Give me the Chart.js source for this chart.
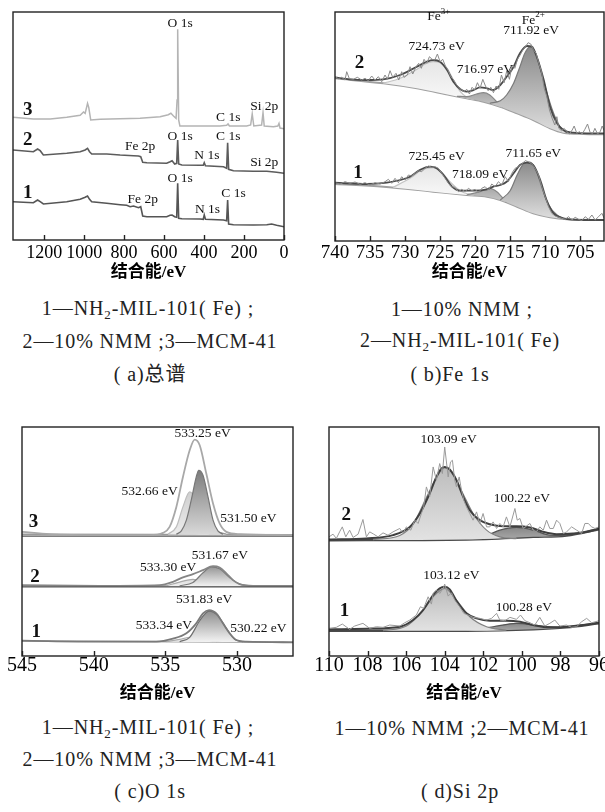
<!DOCTYPE html>
<html>
<head>
<meta charset="utf-8">
<script src="https://cdn.jsdelivr.net/npm/chart.js@4.4.1/dist/chart.umd.min.js"></script>
<style>
body{margin:0;background:#fff;width:605px;height:812px;position:relative;overflow:hidden;font-family:"Liberation Serif","Noto Sans CJK SC",serif;color:#222}
canvas{position:absolute}
.cap{position:absolute;font-size:20px;letter-spacing:0.9px;line-height:1;white-space:nowrap;transform:translate(-50%,-50%)}
.cap sub{font-size:13px;vertical-align:-4px}
</style>
</head>
<body>
<canvas id="ca" width="300" height="283" style="left:0;top:0"></canvas>
<canvas id="cb" width="305" height="283" style="left:300px;top:0"></canvas>
<canvas id="cc" width="300" height="289" style="left:0;top:415px"></canvas>
<canvas id="cd" width="305" height="289" style="left:300px;top:415px"></canvas>

<div class="cap" style="left:148px;top:309px">1—NH<sub>2</sub>-MIL-101( Fe) ;</div>
<div class="cap" style="left:150px;top:341px">2—10% NMM ;3—MCM-41</div>
<div class="cap" style="left:150px;top:374px">( a)总谱</div>
<div class="cap" style="left:462px;top:309px">1—10% NMM ;</div>
<div class="cap" style="left:460px;top:341px">2—NH<sub>2</sub>-MIL-101( Fe)</div>
<div class="cap" style="left:450px;top:374px">( b)Fe 1s</div>
<div class="cap" style="left:148px;top:728px">1—NH<sub>2</sub>-MIL-101( Fe) ;</div>
<div class="cap" style="left:150px;top:759px">2—10% NMM ;3—MCM-41</div>
<div class="cap" style="left:150px;top:791px">( c)O 1s</div>
<div class="cap" style="left:462px;top:728px">1—10% NMM ;2—MCM-41</div>
<div class="cap" style="left:460px;top:791px">( d)Si 2p</div>

<script>
// (a) survey spectra: [binding energy eV, intensity]
const surv3 = [[1356,122.7],[1254,121],[1170,121],[1087,122.7],[1020,124.7],[1003,128],[995,126.7],[983,136.7],[977,132.7],[967,120],[920,120.7],[820,121.3],[720,121.7],[620,123.3],[579,125.3],[566,126.7],[553,124],[540,121.7],[535,140],[532,210.7],[527,120],[521,114],[420,114],[320,114],[287,114.7],[280,116],[273,114],[187,114],[167,115],[159,126],[151,114],[112,115],[105,127.3],[99,114],[53,113.3],[31,114],[25,116.7],[20,112],[0,111.3]];
const surv2 = [[1356,90],[1254,88.3],[1233,91],[1220,89.3],[1204,85],[1087,86.7],[1020,88.3],[995,90],[983,91.7],[973,88.3],[962,86],[887,86],[820,85],[753,84.3],[728,84],[717,83.3],[707,77.7],[686,77.3],[587,76.7],[570,78.3],[560,79.3],[547,76],[537,76.7],[532,100],[527,76],[511,75],[420,74.7],[404,74.7],[399,77.3],[393,74.3],[303,73.3],[287,71.7],[282,97.3],[277,70.7],[253,69.3],[154,68.7],[86,68.7],[37,67.7],[0,66.7]];
const surv1 = [[1356,38.3],[1254,37.3],[1233,40],[1220,38.3],[1204,36],[1087,38.3],[1020,40.7],[995,42.7],[983,44],[973,40.7],[962,38.3],[887,36.7],[820,35.3],[787,34.7],[770,33.3],[753,34],[728,32.3],[717,33.3],[707,24],[686,23.3],[587,23.3],[570,24.7],[560,25],[547,23.3],[537,22.7],[532,56.7],[527,21.7],[511,21.3],[420,21],[404,20.7],[399,25],[393,20.7],[303,20],[287,19.3],[282,40],[277,16],[253,15.3],[154,15],[86,15.3],[62,16],[37,14.7],[0,13.3]];
const labA = [['O 1s',520,216.7],['3',1282,130,1],['C 1s',279,122.7],['Si 2p',99,133.3],['2',1282,100,1],['Fe 2p',720,93.3],['O 1s',520,103.3],['C 1s',279,103.3],['N 1s',386,85],['Si 2p',99,77.3],['1',1282,46.7,1],['Fe 2p',707,40.7],['O 1s',520,61.7],['C 1s',253,46.7],['N 1s',383,30.7]];

// (b) Fe spectra
const raw2B = [[740,164.3],[739.52,162.3],[739.05,163.7],[738.57,161],[738.33,169.3],[737.95,162.3],[737.38,161.7],[736.81,163.7],[736.19,161],[735.71,162.7],[735.24,160.3],[734.76,165],[734.29,161],[733.81,164.3],[733.33,159.3],[732.86,166],[732.52,161.7],[732.14,170.3],[731.76,163.7],[731.29,167.7],[730.9,161],[730.48,169.3],[730.14,163.7],[729.67,166],[729.29,174.3],[728.9,167],[728.43,174.3],[728.05,177.7],[727.67,172.7],[727.29,181.7],[726.9,177.7],[726.52,184.3],[726.14,181.7],[725.76,181],[725.38,187],[725,179.3],[724.62,181.7],[724.24,175],[723.86,171],[723.48,164.3],[723.1,161.7],[722.71,157],[722.33,153.7],[721.95,151],[721.57,149.3],[721.19,151.7],[720.81,147],[720.43,153.7],[720.05,151],[719.67,158.3],[719.29,152.7],[718.9,161.7],[718.52,155],[718.14,150.3],[717.76,153.7],[717.38,148.3],[717,155],[716.62,151.7],[716.24,166],[715.86,158.3],[715.48,170.3],[715.1,161.7],[714.71,176],[714.33,172.7],[713.95,181.7],[713.57,186],[713.19,191],[712.81,194.3],[712.43,198.3],[712.05,197],[711.67,191],[711.29,187.7],[710.9,177.7],[710.52,169.3],[710.14,152.7],[709.76,144.3],[709.38,131],[709,122.7],[708.62,116],[708.33,124.3],[708.05,112.7],[707.67,110.3],[707.29,112.7],[706.9,109.3],[706.52,107],[706.14,111],[705.86,115],[705.48,107.7],[705.1,109.3],[704.71,107],[704.33,111.7],[703.95,117],[703.57,108.3],[703.19,107.7],[702.9,112.7],[702.52,107],[702.14,109.3],[701.86,115],[701.57,110.3]];
const env2B = [[740,163.7],[737.9,161.7],[735.5,161],[733.1,161.7],[730.7,166],[728.3,174.3],[726.9,179.3],[726,181],[725,179.3],[724,171],[723.1,159.3],[722.1,151.7],[721.2,149.3],[720.2,151],[719.3,153.7],[718.3,152.7],[717.4,151],[716.4,156],[715.5,164.3],[714.5,174.3],[713.6,187.7],[712.6,195],[711.9,194.3],[711.2,184.3],[710.2,161],[709.3,134.3],[708.3,117.7],[707.4,111],[706,108.3],[704,107.7],[701.6,107.7]];
const bg2B = [[740,162.7],[733.1,157.7],[728.3,152.7],[723.6,146],[721.2,142.7],[718.8,139.3],[716.4,134.3],[714,127.7],[711.7,121],[709.3,112.7],[707.4,108.3],[704.5,107],[701.6,106.7]];
const fe3B2 = [[733.1,157.7],[730.7,162.7],[728.3,171.7],[726.9,177.7],[726,179.3],[725,178.3],[724,172.7],[723.1,161],[722.1,149.3],[721.2,143.7],[720.2,141.3]];
const satB2 = [[722.6,144.7],[721.2,144.3],[719.8,147],[718.8,148.3],[717.9,146],[716.9,139.3],[716,133.3]];
const fe2B2 = [[717.9,137.7],[716.4,140.3],[715.5,146],[714.5,157.7],[713.6,174.3],[712.9,187.7],[712.1,194.3],[711.4,188.3],[710.7,172.7],[709.8,149.3],[708.8,127.7],[707.9,114.3],[706.9,108]];
const raw1B = [[740,58.3],[739.29,57],[738.57,59.3],[737.86,57.7],[737.14,59],[736.43,56.7],[735.71,58.3],[735,56],[734.29,58.3],[733.57,57],[732.86,59.3],[732.38,61.7],[731.9,57.7],[731.43,62.7],[730.95,58.3],[730.48,64.3],[730,61],[729.52,66],[729.05,65],[728.57,67.7],[728.1,70.3],[727.62,69.3],[727.14,72.7],[726.67,75],[726.19,73.7],[725.71,74.3],[725.24,72.7],[724.76,67.7],[724.29,62.7],[723.81,57.7],[723.33,54.3],[722.86,53.7],[722.38,49.3],[721.9,51.7],[721.43,49.3],[720.95,52.7],[720.48,50.3],[720,51.7],[719.52,48.3],[719.05,52.7],[718.57,54.3],[718.1,51],[717.62,57],[717.14,54.3],[716.67,59.3],[716.19,56],[715.71,64.3],[715.24,59.3],[714.76,67.7],[714.29,72.7],[713.81,74.3],[713.33,77],[712.86,80.3],[712.38,79.3],[711.9,77],[711.43,72.7],[710.95,66],[710.48,54.3],[710,44.3],[709.52,34.3],[709.05,27.7],[708.57,25],[708.1,23.7],[707.62,22.7],[707.14,21.7],[706.67,24.3],[706.19,21],[705.71,23.7],[705.24,21.7],[704.76,20.3],[704.29,24.3],[703.81,21.7],[703.33,26],[702.86,21],[702.38,24.3],[701.9,27.7],[701.57,22.7]];
const env1B = [[740,58.3],[735.5,57],[732.6,58.3],[730.7,61],[729.3,64.3],[727.9,71],[726.4,74.3],[725.5,72.7],[724.5,66],[723.3,54.3],[722.1,50.3],[720.2,50.3],[718.3,51.7],[717.4,54.3],[716.4,56],[715.5,59.3],[714.5,67.7],[713.6,76],[712.6,78.3],[711.7,76],[710.7,61],[709.8,41],[708.8,27.7],[707.4,22.7],[704.5,21],[701.6,21]];
const bg1B = [[740,57],[733.1,54.3],[726,49.3],[721.2,46],[718.3,44.3],[716.4,41],[714,34.3],[711.7,27.7],[709.3,23.7],[706.9,21.7],[701.6,21]];
const fe3B1 = [[731.7,53.7],[729.3,62.7],[727.4,71.7],[726,73.3],[725,70.3],[723.6,59.3],[722.1,50],[720.2,45.5]];
const satB1 = [[721.2,46],[719.3,49.3],[717.9,52.7],[716.9,49.3],[715.5,38.5]];
const fe2B1 = [[716.4,41],[715,50.3],[714,66],[713.1,77],[712.2,79],[711.4,72.7],[710.5,54.3],[709.5,36],[708.3,26],[707.4,22.5]];
const labB = [['Fe^3+',725.2,224.3],['Fe^2+',711.7,221],['711.92 eV',712,211],['724.73 eV',725.5,194.3],['2',736.5,177.7,1],['716.97 eV',718.6,171.7],['725.45 eV',725.5,85],['711.65 eV',711.7,87.7],['1',736.7,67.7,1],['718.09 eV',719.3,67]];

// (c) O 1s
const env3C = [[545,124.3],[543.07,122],[539.58,121],[536.09,121],[535.16,123.3],[534.7,129.3],[534.23,149.3],[533.77,179.3],[533.3,206],[532.95,216.7],[532.6,211],[532.14,182.7],[531.67,152.7],[531.21,132.7],[530.74,124.3],[529.81,122],[526.09,121]];
const pkA3C = [[534.23,122],[533.88,125.3],[533.53,136],[533.19,156],[532.84,179.3],[532.67,186],[532.37,181],[532.02,159.3],[531.67,136],[531.33,125.3],[530.98,122]];
const pkB3C = [[534.81,122],[534.23,129.3],[533.77,149.3],[533.3,164.3],[532.95,157.7],[532.6,137.7],[532.26,125.3],[531.91,122]];
const pkC3C = [[532.84,122],[531.79,125.3],[530.74,122]];
const base3C = [[545,122],[526.09,121.3]];
const sep1C = [[545,120],[526.09,120]];
const sep2C = [[545,69.3],[526.09,69.3]];
const env2C = [[545,71],[539.58,70.3],[535.4,71],[534.47,74.3],[533.77,78.7],[533.07,82],[532.37,86],[531.67,90],[531.21,88.7],[530.74,82.7],[530.28,76],[529.81,72],[528.88,70.3],[526.09,70.3]];
const pkA2C = [[534,70.3],[533.07,73.7],[532.37,83.3],[531.79,89.3],[531.21,87.3],[530.51,78.7],[529.81,72],[529.12,70.3]];
const pkB2C = [[534.93,70.3],[534,74],[533.07,76.7],[532.37,74],[531.67,70.3]];
const base2C = [[545,70.3],[526.09,70]];
const env1C = [[545,15.3],[539.58,14.3],[535.63,14.3],[534.47,17.3],[533.53,22.7],[532.84,32.7],[532.37,42.7],[531.95,46],[531.44,42.7],[530.98,32.7],[530.51,22.7],[530.05,16],[529.35,14.3],[526.09,13.7]];
const pkA1C = [[534,14.3],[533.3,18.7],[532.6,35.3],[531.95,45],[531.33,40.5],[530.74,27.7],[530.16,16.7],[529.58,14.3]];
const pkB1C = [[534.93,14.3],[534,16.7],[533.07,19.3],[532.37,17.7],[531.67,14.3]];
const pkC1C = [[531.44,14.3],[530.51,16.7],[529.58,14.3]];
const base1C = [[545,15],[526.09,13.7]];
const labC = [['533.25 eV',532.4,222.7],['532.66 eV',536.1,164.3],['3',544.2,134.3,1],['531.50 eV',529.2,137.7],['531.67 eV',531.2,101],['533.30 eV',534.8,88.7],['2',544.1,79.3,1],['531.83 eV',532.3,56.7],['533.34 eV',535.1,31],['530.22 eV',528.5,27.7],['1',544,24.3,1]];

// (d) Si 2p
const raw2D = [[110,119.3],[109.79,122],[109.62,117.7],[109.45,124.3],[109.31,129.3],[109.13,119.3],[108.93,126],[108.75,118.7],[108.49,122],[108.24,136.7],[108.06,119.3],[107.89,124.3],[107.68,122],[107.46,119.3],[107.2,123.3],[106.94,121],[106.68,124.3],[106.33,127.7],[106.16,122.7],[105.99,129.3],[105.76,126],[105.55,136],[105.38,132.7],[105.21,142.7],[105.09,149.3],[104.95,169.3],[104.78,159.3],[104.6,189.3],[104.43,176],[104.26,192.7],[104.12,182.7],[104,209.3],[103.82,179.3],[103.7,194.3],[103.6,196],[103.48,176],[103.39,169.3],[103.25,179.3],[103.13,166],[103.01,156],[102.87,149.3],[102.7,142.7],[102.53,136],[102.35,144.3],[102.18,132.7],[102.01,142.7],[101.83,129.3],[101.66,129.3],[101.49,134.3],[101.31,127.7],[101.14,132.7],[100.97,129.3],[100.8,139.3],[100.62,129.3],[100.36,147.7],[100.24,136],[100.1,137.7],[99.93,127.7],[99.58,132.7],[99.41,126],[99.24,124.3],[99.07,129.3],[98.89,126],[98.72,136],[98.55,127.7],[98.37,127.7],[98.2,136],[98.03,132.7],[97.85,122.7],[97.68,124.3],[97.42,129.3],[97.16,126],[96.9,122.7],[96.73,132.7],[96.56,132.7],[96.38,129.3],[96.21,127.7],[96,129.3]];
const env2D = [[110,116.7],[108.06,117.7],[106.68,121],[105.81,129.3],[105.29,142.7],[104.78,162.7],[104.43,179.3],[104.17,187.7],[104,189.3],[103.74,186.7],[103.39,176],[103.04,159.3],[102.7,146],[102.18,136],[101.66,132],[100.97,130],[100.28,130],[99.58,128.7],[98.89,124.3],[98.2,122],[97.34,122.7],[96.64,124.3],[96,127.7]];
const bg2D = [[110,116],[102.87,116.7],[99.41,119.3],[97.68,120.7],[96,127]];
const pkA2D = [[107.72,116.5],[106.33,120.7],[105.64,132],[104.95,158.7],[104.43,178.7],[104,188.7],[103.56,182],[103.04,162],[102.53,142.7],[101.83,126],[101.14,119.3],[100.28,117.5]];
const pkB2D = [[102.87,116.7],[101.83,120.7],[101.14,126],[100.28,128.7],[99.41,126],[98.55,121],[97.68,120.7]];
const raw1D = [[110,27.7],[109.62,28.7],[109.31,32],[108.93,26.7],[108.67,30],[108.24,32.7],[107.89,27.7],[107.54,29.3],[107.2,28.7],[106.85,31],[106.33,30],[106.07,33.3],[105.81,36],[105.47,41],[105.26,49.3],[105.09,47.7],[104.86,59.3],[104.69,52],[104.6,62.7],[104.43,66],[104.26,62.7],[104.08,67.7],[104,72],[103.82,60],[103.65,63.3],[103.48,56],[103.22,49.3],[103.01,42.7],[102.79,41],[102.53,38.7],[102.18,37.7],[101.83,36],[101.57,37.7],[101.31,42.7],[101.14,36],[100.88,35.3],[100.62,38.7],[100.28,36.7],[100.07,41],[99.84,35.3],[99.58,33.3],[99.33,31],[99.07,38.7],[98.81,30],[98.55,32.7],[98.29,36],[98.03,30],[97.68,31],[97.42,28.7],[97.16,29.3],[96.9,34.3],[96.64,37.7],[96.38,33.3],[96,35.3]];
const env1D = [[110,26.7],[108.06,27.3],[106.33,29.3],[105.64,36],[105.12,46],[104.6,61],[104.26,67.7],[104,69.3],[103.74,66.7],[103.39,55.3],[102.87,42.7],[102.35,37.7],[101.66,35.3],[100.8,35.3],[100.1,34.3],[99.41,31],[98.55,28.7],[97.68,29.3],[96.82,31],[96,33.3]];
const bg1D = [[110,25.3],[102.87,25.3],[99.41,26.7],[97.68,28.7],[96,32.7]];
const pkA1D = [[107.2,25.3],[105.99,30],[105.29,42],[104.6,59.3],[104,67.7],[103.39,56],[102.7,39.3],[101.83,29.3],[100.8,25.8]];
const pkB1D = [[102.87,25.3],[101.49,29.3],[100.28,32.7],[99.07,30.3],[98.03,28.2]];
const labD = [['103.09 eV',103.8,216.7],['100.22 eV',100,157.7],['2',109.1,141,1],['103.12 eV',103.65,80.3],['100.28 eV',99.9,48.3],['1',109.2,45,1]];

const SERIF = '"Liberation Serif", "Times New Roman", serif';

const pts = a => a.map(p => ({x: p[0], y: p[1]}));

function line(arr, color, w, extra) {
    return Object.assign({data: pts(arr), borderColor: color, borderWidth: w, pointRadius: 0, fill: false, tension: 0}, extra || {});
}
function smooth(arr, color, w, extra) {
    return line(arr, color, w, Object.assign({cubicInterpolationMode: 'monotone'}, extra || {}));
}
// vertical grey shading between the peak top and its base
function shade(arr, c1, c2) {
    return (ctx) => {
        const ch = ctx.chart, sy = ch.scales.y;
        if (!ch.chartArea || !sy) return c2;
        const ys = arr.map(p => p[1]);
        const g = ch.ctx.createLinearGradient(0, sy.getPixelForValue(Math.max(...ys)), 0, sy.getPixelForValue(Math.min(...ys)));
        g.addColorStop(0, c1);
        g.addColorStop(1, c2);
        return g;
    };
}
function peak(arr, border, c1, c2, target) {
    return smooth(arr, border, 1.2, {fill: {target: target}, backgroundColor: shade(arr, c1, c2)});
}

// frame, inward ticks and the text marks
const marks = {
    id: 'marks',
    afterDraw(chart, args, opts) {
        const c = chart.ctx, a = chart.chartArea, sx = chart.scales.x, sy = chart.scales.y;
        c.save();
        c.strokeStyle = '#222';
        c.lineWidth = 1.4;
        c.strokeRect(a.left, a.top, a.right - a.left, a.bottom - a.top);
        sx.ticks.forEach(t => {
            const px = Math.round(sx.getPixelForValue(t.value)) + 0.5;
            c.beginPath();
            c.moveTo(px, a.bottom);
            c.lineTo(px, a.bottom - 5);
            c.stroke();
        });
        c.fillStyle = '#111';
        c.textBaseline = 'middle';
        (opts.items || []).forEach(m => {
            const px = sx.getPixelForValue(m[1]), py = sy.getPixelForValue(m[2]);
            c.font = m[3] ? 'bold 19px ' + SERIF : '13.5px ' + SERIF;
            const parts = m[0].split('^');
            if (parts.length == 1) {
                c.textAlign = 'center';
                c.fillText(parts[0], px, py);
            } else {
                const bw = c.measureText(parts[0]).width;
                c.font = '9px ' + SERIF;
                const sw = c.measureText(parts[1]).width;
                const x0 = px - (bw + sw) / 2;
                c.textAlign = 'left';
                c.fillText(parts[1], x0 + bw, py - 5);
                c.font = '13.5px ' + SERIF;
                c.fillText(parts[0], x0, py);
            }
        });
        c.restore();
    }
};

function build(id, xMin, xMax, step, yMax, pad, axisH, tickPad, tickSize, sets, labels) {
    return new Chart(document.getElementById(id), {
        type: 'line',
        data: {datasets: sets},
        options: {
            responsive: false,
            animation: false,
            devicePixelRatio: 1,
            layout: {padding: pad},
            plugins: {legend: {display: false}, tooltip: {enabled: false}, marks: {items: labels}},
            scales: {
                x: {
                    type: 'linear', reverse: true, min: xMin, max: xMax,
                    grid: {display: false, drawTicks: false},
                    border: {display: false},
                    ticks: {stepSize: step, autoSkip: false, maxRotation: 0, includeBounds: false, padding: tickPad, color: '#000',
                        font: {family: SERIF, size: tickSize, lineHeight: 1}, callback: v => String(v)},
                    title: {display: true, text: '结合能/eV', color: '#000', padding: 0,
                        font: {family: '"Liberation Serif", "Noto Sans CJK SC", serif', size: 17, weight: 'bold', lineHeight: 1.2}},
                    afterFit: s => { s.height = axisH; s.paddingLeft = 0; s.paddingRight = 0; }
                },
                y: {display: false, min: 0, max: yMax}
            }
        },
        plugins: [marks]
    });
}

build('ca', 0, 1356, 200, 228, {left: 13, top: 12, right: 16, bottom: 0}, 43, 4, 18, [
    line(surv3, '#b4b4b4', 1.5),
    line(surv2, '#5c5c5c', 1.6),
    line(surv1, '#555555', 1.6)
], labA);

build('cb', 701.6, 740, 5, 229, {left: 35, top: 12, right: 1, bottom: 0}, 42, 3, 19, [
    line(raw2B, '#8a8a8a', 1),
    smooth(env2B, '#4a4a4a', 1.8),
    line(raw1B, '#8a8a8a', 1),
    smooth(env1B, '#4a4a4a', 1.8),
    peak(fe2B2, '#7a7a7a', '#8a8a8a', '#dedede', 7),
    peak(satB2, '#888888', '#a8a8a8', '#c8c8c8', 7),
    peak(fe3B2, '#c4c4c4', '#e6e6e6', '#f8f8f8', 7),
    smooth(bg2B, '#a0a0a0', 2),
    peak(fe2B1, '#7a7a7a', '#8a8a8a', '#dedede', 11),
    peak(satB1, '#888888', '#a8a8a8', '#c8c8c8', 11),
    peak(fe3B1, '#c4c4c4', '#e6e6e6', '#f8f8f8', 11),
    smooth(bg1B, '#a0a0a0', 2)
], labB);

build('cc', 526.09, 545, 5, 229.3, {left: 22, top: 12, right: 7, bottom: 0}, 48, 0, 20, [
    smooth(env3C, '#a8a8a8', 1.8),
    peak(pkA3C, '#777777', '#7c7c7c', '#d8d8d8', 4),
    peak(pkB3C, '#bdbdbd', '#cfcfcf', '#ececec', 4),
    peak(pkC3C, '#9a9a9a', '#d8d8d8', '#ececec', 4),
    line(base3C, '#9a9a9a', 1.5),
    line(sep1C, '#555555', 1.3),
    line(sep2C, '#555555', 1.3),
    smooth(env2C, '#858585', 1.8),
    peak(pkA2C, '#7a7a7a', '#969696', '#f0f0f0', 10),
    peak(pkB2C, '#aaaaaa', '#dcdcdc', '#efefef', 10),
    line(base2C, '#9a9a9a', 1.5),
    smooth(env1C, '#7a7a7a', 1.8),
    peak(pkA1C, '#6e6e6e', '#8e8e8e', '#f2f2f2', 15),
    peak(pkB1C, '#aaaaaa', '#dcdcdc', '#efefef', 15),
    peak(pkC1C, '#999999', '#d4d4d4', '#efefef', 15),
    line(base1C, '#9a9a9a', 1.5)
], labC);

build('cd', 96, 110, 2, 229.3, {left: 29, top: 12, right: 6, bottom: 0}, 48, 0, 20, [
    line(raw2D, '#9a9a9a', 1),
    smooth(env2D, '#3f3f3f', 2),
    peak(pkA2D, '#808080', '#bdbdbd', '#e2e2e2', 4),
    peak(pkB2D, '#555555', '#888888', '#a8a8a8', 4),
    smooth(bg2D, '#4a4a4a', 2.5),
    line(raw1D, '#9a9a9a', 1),
    smooth(env1D, '#3f3f3f', 2),
    peak(pkA1D, '#808080', '#bdbdbd', '#e2e2e2', 9),
    peak(pkB1D, '#555555', '#888888', '#a8a8a8', 9),
    smooth(bg1D, '#4a4a4a', 2.5)
], labD);
</script>
</body>
</html>
